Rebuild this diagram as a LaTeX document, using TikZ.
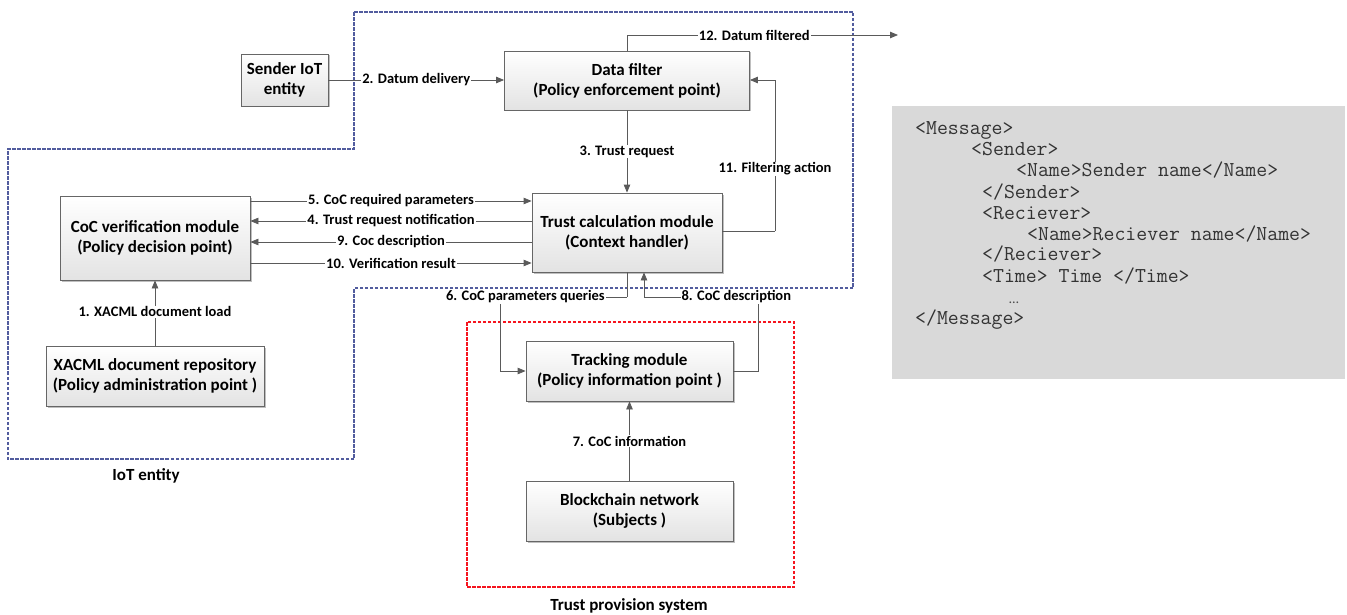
\documentclass[tikz,border=0pt]{standalone}
\usepackage{fontspec}
\setmainfont{Carlito}
\usetikzlibrary{arrows.meta,shadows}
\definecolor{iotblue}{RGB}{82,92,158}
\definecolor{tpsred}{RGB}{245,20,30}
\definecolor{lnc}{RGB}{90,90,90}
\definecolor{codebg}{RGB}{217,217,217}
\begin{document}
\begin{tikzpicture}[x=1pt,y=-1pt,
  box/.style={draw=gray!80!black, line width=0.8pt, top color=white, bottom color=gray!22,
    drop shadow={shadow xshift=1.5pt,shadow yshift=-1.5pt,fill=black,opacity=0.25},
    align=center, font=\fontsize{17}{20}\selectfont\bfseries, inner sep=2pt},
  lbl/.style={fill=white, inner sep=1pt, font=\fontsize{14.5}{16}\selectfont\bfseries, text=black},
  arr/.style={draw=lnc, line width=0.8pt, -{Triangle[length=8pt,width=6.5pt]}},
  ln/.style={draw=lnc, line width=0.8pt},
  iotline/.style={draw=iotblue, line width=1.4pt, dash pattern=on 3.5pt off 1.5pt},
  tpsline/.style={draw=tpsred, line width=1.4pt, dash pattern=on 3.5pt off 1.5pt},
  codetxt/.style={anchor=base west, inner sep=0pt, font=\ttfamily\fontsize{21.2}{22}\selectfont, text=black!80},
  grouplbl/.style={font=\fontsize{17}{20}\selectfont\bfseries, text=black}
]
\useasboundingbox (0,0) rectangle (1347,615);

% containers
\draw[iotline] (354,12) -- (853,12) -- (853,288) -- (354,288) -- (354,459) -- (8,459) -- (8,149) -- (354,149) -- cycle;
\draw[tpsline] (467,322) rectangle (794,587);
\node[grouplbl] (iotlbl) at (146,476) {IoT entity};
\node[grouplbl] (tpslbl) at (629,606) {Trust provision system};

% code box
\fill[codebg] (892,106) rectangle (1345,379);
\node[codetxt] (c1) at (915,135) {<Message>};
\node[codetxt] (c2) at (971,156) {<Sender>};
\node[codetxt] (c3) at (1016,176) {<Name>Sender name</Name>};
\node[codetxt] (c4) at (982,198) {</Sender>};
\node[codetxt] (c5) at (982,219) {<Reciever>};
\node[codetxt] (c6) at (1027,240) {<Name>Reciever name</Name>};
\node[codetxt] (c7) at (982,260) {</Reciever>};
\node[codetxt] (c8) at (982,282) {<Time> Time </Time>};
\node[codetxt, font=\fontsize{14}{15}\selectfont, text=black!70] (c9) at (1009,303) {…};
\node[codetxt] (c10) at (915,324) {</Message>};

% boxes
\node[box, minimum width=87, minimum height=52] (sender) at (284.5,80) {Sender IoT\\entity};
\node[box, minimum width=245, minimum height=59] (filter) at (627,80.5) {Data filter\\(Policy enforcement point)};
\node[box, minimum width=190, minimum height=79] (trust) at (627,232.5) {Trust calculation module\\(Context handler)};
\node[box, minimum width=190, minimum height=84] (coc) at (155,238) {CoC verification module\\(Policy decision point)};
\node[box, minimum width=218, minimum height=60] (xacml) at (155,376) {XACML document repository\\(Policy administration point )};
\node[box, minimum width=207, minimum height=60] (track) at (629.5,371) {Tracking module\\(Policy information point )};
\node[box, minimum width=207, minimum height=60] (block) at (629.5,511) {Blockchain network\\(Subjects )};

% helper coordinates
\coordinate (h5) at (0,201);
\coordinate (h4) at (0,221);
\coordinate (h9) at (0,242);
\coordinate (h10) at (0,263);
\coordinate (h80) at (0,80);
\coordinate (c12a) at (627,35);
\coordinate (c12b) at (898,35);
\coordinate (c11a) at (775,231);
\coordinate (c11b) at (775,80);
\coordinate (c6a) at (627,297);
\coordinate (c6b) at (500,297);
\coordinate (c6c) at (500,371);
\coordinate (c8a) at (758,371);
\coordinate (c8b) at (758,297);
\coordinate (c8c) at (644,297);
\coordinate (x627) at (627,0);
\coordinate (x644) at (644,0);
\coordinate (x629) at (629.5,0);
\coordinate (x155) at (155,0);

% connectors
\draw[arr] (sender.east |- h80) -- node[lbl]{2. Datum delivery} (filter.west |- h80);
\draw[ln] (filter.north -| x627) -- (c12a);
\draw[arr] (c12a) -- node[lbl,pos=0.47]{12. Datum filtered} (c12b);
\draw[arr] (filter.south -| x627) -- node[lbl]{3. Trust request} (trust.north -| x627);
\draw[ln] (trust.east |- c11a) -- (c11a);
\draw[arr] (c11a) -- node[lbl,pos=0.41]{11. Filtering action} (c11b) -- (filter.east |- c11b);
\draw[arr] (coc.east |- h5) -- node[lbl]{5. CoC required parameters} (trust.west |- h5);
\draw[arr] (trust.west |- h4) -- node[lbl]{4. Trust request notification} (coc.east |- h4);
\draw[arr] (trust.west |- h9) -- node[lbl]{9. Coc description} (coc.east |- h9);
\draw[arr] (coc.east |- h10) -- node[lbl]{10. Verification result} (trust.west |- h10);
\draw[arr] (xacml.north -| x155) -- node[lbl,pos=0.52]{1. XACML document load} (coc.south -| x155);
\draw[ln] (trust.south -| x627) -- (c6a);
\draw[arr] (c6a) -- node[lbl,pos=0.8]{6. CoC parameters queries} (c6b) -- (c6c) -- (track.west |- c6c);
\draw[ln] (track.east |- c8a) -- (c8a) -- (c8b);
\draw[arr] (c8b) -- node[lbl,pos=0.19]{8. CoC description} (c8c) -- (trust.south -| x644);
\draw[arr] (block.north -| x629) -- node[lbl]{7. CoC information} (track.south -| x629);
\end{tikzpicture}
\end{document}
